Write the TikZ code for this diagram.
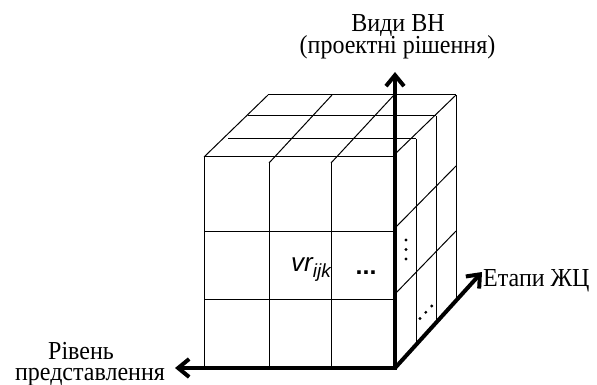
\documentclass[tikz,border=0pt]{standalone}
\usepackage{fontspec}
\setmainfont{Liberation Serif}
\newfontfamily\arialfont{Liberation Sans}
\usetikzlibrary{arrows.meta}
\newcommand{\tallt}[1]{\scalebox{1}[1.08]{#1}}
\tikzset{
  gridline/.style={line width=1pt, black},
  axisline/.style={line width=4pt, black},
  axistip/.style={-{Straight Barb[length=11pt,width=18pt]}},
  lbl/.style={inner sep=0pt, font=\fontsize{24}{20}\selectfont},
  dotmark/.style={fill=black, draw=none},
}
\begin{document}
\begin{tikzpicture}[x=1pt,y=-1pt]
\useasboundingbox (0,0) rectangle (597,385);
% corners
\coordinate (O) at (395,368);
\coordinate (Ttip) at (395,72);
\coordinate (Ltip) at (175,368);
\coordinate (Dtip) at (482,272);
% front face grid
\draw[gridline] (204,157) -- (395,157);
\draw[gridline] (204,231) -- (395,231);
\draw[gridline] (204,299) -- (395,299);
\draw[gridline] (204,157) -- (204,368);
\draw[gridline] (269,163) -- (269,368);
\draw[gridline] (331,163) -- (331,368);
% top face grid
\draw[gridline] (268,95) -- (456,95);
\draw[gridline] (248,116) -- (436,116);
\draw[gridline] (228,139) -- (416,139);
\draw[gridline] (204,157) -- (268,95);
\draw[gridline] (269,163) -- (332,95);
\draw[gridline] (331,163) -- (394,95);
\draw[gridline] (395,154) -- (456,95);
% right face grid
\draw[gridline] (416,139) -- (416,345);
\draw[gridline] (436,116) -- (436,323);
\draw[gridline] (456,95) -- (456,301);
\draw[gridline] (395,228) -- (456,166);
\draw[gridline] (395,294) -- (456,231);
% axes
\draw[axisline, {Straight Barb[length=11pt,width=18pt]}-{Straight Barb[length=11pt,width=18pt]}] (Ltip) -- (O) -- (Ttip);
\draw[axisline, axistip] (O) -- (Dtip);
% dots
\fill[dotmark] (406,240) circle (1.6) (406,249.5) circle (1.6) (406,259) circle (1.6);
\fill[dotmark] (420,318.5) circle (1.6) (425.8,312.3) circle (1.6) (431.7,306) circle (1.6);
% labels
\node[lbl, anchor=base, text depth=0pt] (vidy1) at (398,32) {\tallt{Види ВН}};
\node[lbl, anchor=base, text height=16pt] (vidy2) at (397.5,54) {\tallt{(проектні рішення)}};
\node[lbl, anchor=base west] (etapy) at (483,286.5) {\tallt{Етапи ЖЦ}};
\node[lbl, anchor=base, text depth=0pt] (riven1) at (81,359) {\tallt{Рівень}};
\node[lbl, anchor=base, text height=12pt] (riven2) at (90,380.5) {\tallt{представлення}};
\node[inner sep=0pt, anchor=base west] (vr) at (291,271)
  {\fontsize{26}{26}\arialfont\itshape vr\raisebox{-6pt}{\fontsize{19}{19}\selectfont ijk}};
\node[inner sep=0pt, anchor=base west] (ell) at (355.5,274.5)
  {\fontsize{25}{25}\arialfont\bfseries ...};
\end{tikzpicture}
\end{document}
